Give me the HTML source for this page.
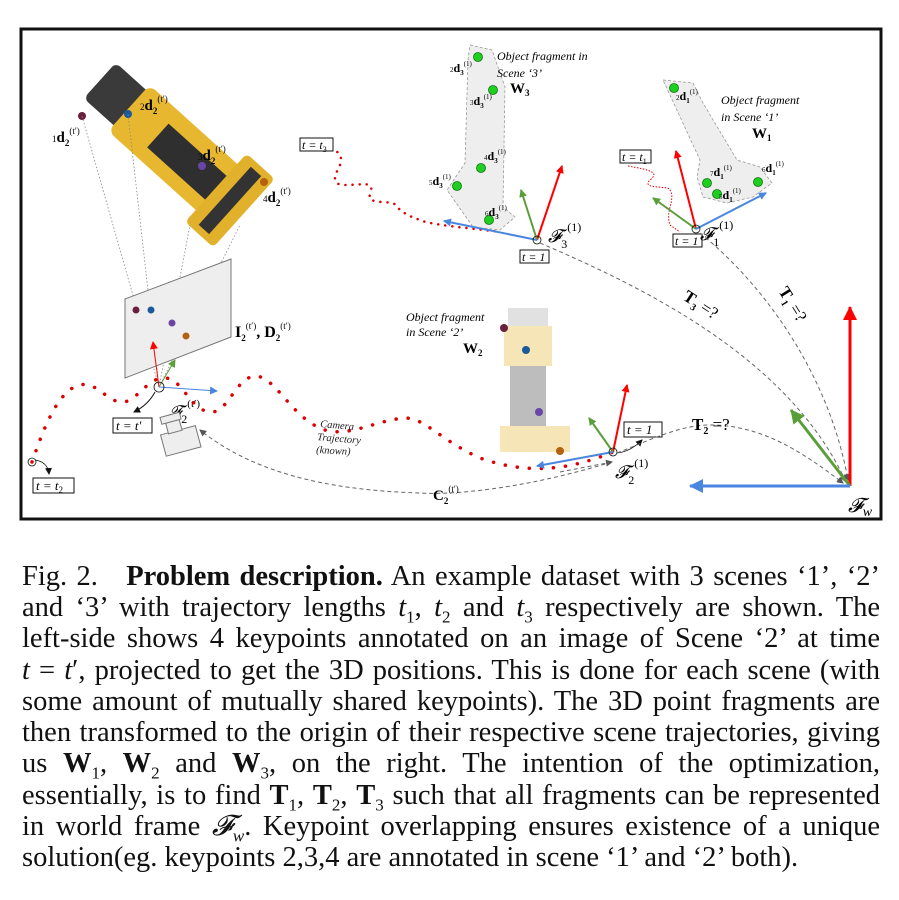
<!DOCTYPE html>
<html><head><meta charset="utf-8">
<style>
html,body{margin:0;padding:0;background:#fff;}
body{width:899px;height:900px;position:relative;overflow:hidden;font-family:"Liberation Serif",serif;}
.cap{position:absolute;left:22px;width:858px;font-size:28.5px;line-height:31px;white-space:nowrap;color:#111;text-align:justify;text-align-last:justify;}
.cap.last{text-align-last:left;}
svg text{font-family:"Liberation Serif",serif;}
.it{font-family:"Liberation Sans",sans-serif;font-style:italic;}
</style></head><body>
<svg width="899" height="540" style="position:absolute;left:0;top:0" xmlns="http://www.w3.org/2000/svg">
<defs>
<marker id="ar" markerWidth="8" markerHeight="8" refX="7" refY="4" orient="auto" markerUnits="userSpaceOnUse"><path d="M0,0 L8,4 L0,8 z" fill="#f00"/></marker>
<marker id="ag" markerWidth="8" markerHeight="8" refX="7" refY="4" orient="auto" markerUnits="userSpaceOnUse"><path d="M0,0 L8,4 L0,8 z" fill="#5a9e3a"/></marker>
<marker id="ab" markerWidth="8" markerHeight="8" refX="7" refY="4" orient="auto" markerUnits="userSpaceOnUse"><path d="M0,0 L8,4 L0,8 z" fill="#4a86e0"/></marker>
<marker id="ar2" markerWidth="14" markerHeight="14" refX="13" refY="7" orient="auto" markerUnits="userSpaceOnUse"><path d="M0,0 L14,7 L0,14 z" fill="#f00"/></marker>
<marker id="ag2" markerWidth="14" markerHeight="14" refX="13" refY="7" orient="auto" markerUnits="userSpaceOnUse"><path d="M0,0 L14,7 L0,14 z" fill="#5a9e3a"/></marker>
<marker id="ab2" markerWidth="14" markerHeight="14" refX="13" refY="7" orient="auto" markerUnits="userSpaceOnUse"><path d="M0,0 L14,7 L0,14 z" fill="#4a86e0"/></marker>
<marker id="ak" markerWidth="7" markerHeight="7" refX="6" refY="3.5" orient="auto" markerUnits="userSpaceOnUse"><path d="M0,0 L7,3.5 L0,7 z" fill="#555"/></marker>
<marker id="akb" markerWidth="7" markerHeight="7" refX="6" refY="3.5" orient="auto" markerUnits="userSpaceOnUse"><path d="M0,0 L7,3.5 L0,7 z" fill="#111"/></marker>
</defs>
<rect x="21" y="29" width="860" height="490" fill="#fff" stroke="#111" stroke-width="3"/>

<g transform="rotate(42 165 150)">
<rect x="70" y="118" width="48" height="48" rx="6" fill="#3a3a3a"/>
<rect x="110" y="112" width="130" height="62" rx="8" fill="#e8b730"/>
<rect x="150" y="128" width="90" height="32" fill="#2f2f2f"/>
<rect x="228" y="98" width="38" height="92" rx="5" fill="#e2b12c"/>
<rect x="240" y="105" width="14" height="78" fill="#333"/>
</g>
<circle cx="82" cy="116" r="4" fill="#6b1f3f"/>
<circle cx="128" cy="114" r="4" fill="#1b5a9a"/>
<circle cx="202" cy="166" r="4" fill="#6a45a8"/>
<circle cx="264" cy="182" r="4" fill="#b5620f"/>
<g font-size="15" font-weight="bold">
<text x="52" y="142"><tspan font-size="9" font-weight="normal">1</tspan>d<tspan font-size="9" dy="4">2</tspan><tspan font-size="9" dy="-12" font-weight="normal">(t′)</tspan></text>
<text x="140" y="110"><tspan font-size="9" font-weight="normal">2</tspan>d<tspan font-size="9" dy="4">2</tspan><tspan font-size="9" dy="-12" font-weight="normal">(t′)</tspan></text>
<text x="198" y="160"><tspan font-size="9" font-weight="normal">3</tspan>d<tspan font-size="9" dy="4">2</tspan><tspan font-size="9" dy="-12" font-weight="normal">(t′)</tspan></text>
<text x="263" y="202"><tspan font-size="9" font-weight="normal">4</tspan>d<tspan font-size="9" dy="4">2</tspan><tspan font-size="9" dy="-12" font-weight="normal">(t′)</tspan></text>
</g>
<g stroke="#888" stroke-width="0.8" stroke-dasharray="1.5,2" fill="none">
<line x1="159" y1="387" x2="82" y2="116"/><line x1="159" y1="387" x2="128" y2="114"/>
<line x1="159" y1="387" x2="190" y2="225"/><line x1="159" y1="387" x2="240" y2="225"/>
</g>
<polygon points="125,299 231,259 231,337 125,378" fill="#eee" stroke="#777" stroke-width="1"/>
<circle cx="136" cy="310" r="3.5" fill="#6b1f3f"/><circle cx="151" cy="310" r="3.5" fill="#1b5a9a"/>
<circle cx="172" cy="323" r="3.5" fill="#6a45a8"/><circle cx="186" cy="336" r="3.5" fill="#b5620f"/>
<text x="235" y="337" font-size="16" font-weight="bold">I<tspan font-size="9" dy="4">2</tspan><tspan font-size="9" dy="-12" font-weight="normal">(t′)</tspan><tspan dy="8">, D</tspan><tspan font-size="9" dy="4">2</tspan><tspan font-size="9" dy="-12" font-weight="normal">(t′)</tspan></text>
<line x1="159" y1="387" x2="153" y2="342" stroke="#f00" stroke-width="1" marker-end="url(#ar)"/>
<line x1="159" y1="387" x2="175" y2="360" stroke="#5a9e3a" stroke-width="1" marker-end="url(#ag)"/>
<line x1="159" y1="387" x2="217" y2="391" stroke="#4a86e0" stroke-width="1" marker-end="url(#ab)"/>
<circle cx="159" cy="387" r="5" fill="none" stroke="#111" stroke-width="0.8"/>
<path d="M155,392 Q148,405 134,412" fill="none" stroke="#111" stroke-width="1" marker-end="url(#akb)"/>
<rect x="113" y="418" width="39" height="15" fill="#fff" stroke="#111" stroke-width="1"/>
<text x="116" y="430" font-size="13" font-style="italic">t = t′</text>
<text x="168" y="418" font-size="18" font-style="italic">𝓕<tspan font-size="12" dy="5" font-style="normal">2</tspan><tspan font-size="11" dy="-16" font-style="normal">(t′)</tspan></text>
<g transform="rotate(-15 180 438)" fill="#eee" stroke="#777" stroke-width="1">
<rect x="162" y="430" width="36" height="22"/><rect x="170" y="420" width="14" height="11"/><rect x="166" y="413" width="20" height="7"/>
</g>
<path d="M32,462 C40,440 55,392 79,385 C100,380 110,410 130,400 C145,390 150,378 165,378 C182,378 190,410 210,412 C228,414 235,378 255,376 C275,376 290,415 320,428 C345,440 375,420 405,418 C425,418 440,440 480,458 C520,472 560,474 613,452" fill="none" stroke="#d00" stroke-width="3.5" stroke-dasharray="0.1,12" stroke-linecap="round"/>
<circle cx="32" cy="462" r="4" fill="none" stroke="#111" stroke-width="0.8"/><circle cx="32" cy="462" r="1.5" fill="#d00"/>
<path d="M35,460 Q48,462 49,474" fill="none" stroke="#111" stroke-width="0.8" marker-end="url(#akb)"/>
<rect x="33" y="478" width="41" height="15" fill="#fff" stroke="#111" stroke-width="1"/>
<text x="36" y="490" font-size="13" font-style="italic">t = t<tspan font-size="9" dy="3" font-style="normal">2</tspan></text>
<g class="it" font-size="10.5" fill="#222">
<text x="320" y="427" transform="rotate(5 320 427)">Camera</text>
<text x="317" y="440" transform="rotate(5 317 440)">Trajectory</text>
<text x="316" y="453" transform="rotate(3 316 453)">(known)</text>
</g>
<path d="M612,462 C520,490 450,495 420,493 C320,490 250,470 200,430" fill="none" stroke="#666" stroke-width="1" stroke-dasharray="4,3" marker-end="url(#ak)"/>
<path d="M560,472 L612,462" fill="none" stroke="#666" stroke-width="1" stroke-dasharray="4,3" marker-end="url(#ak)"/>
<text x="433" y="500" font-size="15" font-weight="bold">C<tspan font-size="9" dy="4">2</tspan><tspan font-size="9" dy="-12" font-weight="normal">(t′)</tspan></text>

<g opacity="0.35">
<rect x="508" y="308" width="40" height="18" fill="#aaa"/>
<rect x="504" y="326" width="48" height="40" fill="#e8b730"/>
<rect x="510" y="366" width="36" height="60" fill="#444"/>
<rect x="500" y="426" width="70" height="26" fill="#e8b730"/>
</g>
<circle cx="504" cy="328" r="4" fill="#6b1f3f"/><circle cx="526" cy="350" r="4" fill="#1b5a9a"/>
<circle cx="539" cy="412" r="4" fill="#6a45a8"/><circle cx="560" cy="451" r="4" fill="#b5620f"/>
<g class="it" font-size="12"><text x="406" y="321">Object fragment</text><text x="406" y="336">in Scene ‘2’</text></g>
<text x="463" y="353" font-size="15" font-weight="bold">W<tspan font-size="9" dy="3">2</tspan></text>
<line x1="613" y1="452" x2="627" y2="385" stroke="#f00" stroke-width="2" marker-end="url(#ar)"/>
<line x1="613" y1="452" x2="589" y2="418" stroke="#5a9e3a" stroke-width="2" marker-end="url(#ag)"/>
<line x1="613" y1="452" x2="537" y2="466" stroke="#4a86e0" stroke-width="2" marker-end="url(#ab)"/>
<circle cx="613" cy="452" r="4" fill="none" stroke="#111" stroke-width="0.8"/>
<path d="M617,453 Q630,452 642,440" fill="none" stroke="#111" stroke-width="0.8" marker-end="url(#akb)"/>
<rect x="624" y="422" width="38" height="15" fill="#fff" stroke="#111" stroke-width="1"/>
<text x="627" y="434" font-size="13" font-style="italic">t = 1</text>
<text x="615" y="478" font-size="18" font-style="italic">𝓕<tspan font-size="12" dy="6" font-style="normal">2</tspan><tspan font-size="12" dy="-17" font-style="normal">(1)</tspan></text>

<path d="M325,145 C330,150 345,150 340,165 C335,175 330,185 345,185 C365,185 375,180 370,195 C365,205 395,200 395,205 C400,210 405,215 420,220 C430,225 470,228 500,232" fill="none" stroke="#d00" stroke-width="2.5" stroke-dasharray="0.1,7" stroke-linecap="round"/>
<rect x="300" y="138" width="33" height="13" fill="#fff" stroke="#111" stroke-width="1"/>
<text x="302" y="149" font-size="12" font-style="italic">t = t<tspan font-size="8" dy="3" font-style="normal">3</tspan></text>
<path d="M470,45 L492,50 L505,87 L503,207 L515,217 L500,230 L473,227 L447,190 L465,163 L468,60 Z" fill="#eee" stroke="#999" stroke-width="0.8" stroke-dasharray="3,2"/>
<g fill="#1ed01e" stroke="#137013" stroke-width="0.8">
<circle cx="478" cy="57" r="4.5"/><circle cx="493" cy="90" r="4.5"/><circle cx="481" cy="168" r="4.5"/><circle cx="457" cy="186" r="4.5"/><circle cx="489" cy="220" r="4.5"/>
</g>
<g font-size="12" font-weight="bold">
<text x="450" y="72"><tspan font-size="7" font-weight="normal">2</tspan>d<tspan font-size="7" dy="3">3</tspan><tspan font-size="7" dy="-9" font-weight="normal">(1)</tspan></text>
<text x="470" y="105"><tspan font-size="7" font-weight="normal">3</tspan>d<tspan font-size="7" dy="3">3</tspan><tspan font-size="7" dy="-9" font-weight="normal">(1)</tspan></text>
<text x="484" y="160"><tspan font-size="7" font-weight="normal">4</tspan>d<tspan font-size="7" dy="3">3</tspan><tspan font-size="7" dy="-9" font-weight="normal">(1)</tspan></text>
<text x="429" y="185"><tspan font-size="7" font-weight="normal">5</tspan>d<tspan font-size="7" dy="3">3</tspan><tspan font-size="7" dy="-9" font-weight="normal">(1)</tspan></text>
<text x="485" y="216"><tspan font-size="7" font-weight="normal">6</tspan>d<tspan font-size="7" dy="3">3</tspan><tspan font-size="7" dy="-9" font-weight="normal">(1)</tspan></text>
</g>
<g class="it" font-size="12"><text x="497" y="60">Object fragment in</text><text x="497" y="77">Scene ‘3’</text></g>
<text x="510" y="93" font-size="15" font-weight="bold">W<tspan font-size="9" dy="3">3</tspan></text>
<line x1="537" y1="240" x2="562" y2="166" stroke="#f00" stroke-width="2" marker-end="url(#ar)"/>
<line x1="537" y1="240" x2="521" y2="190" stroke="#5a9e3a" stroke-width="2" marker-end="url(#ag)"/>
<line x1="537" y1="240" x2="444" y2="221" stroke="#4a86e0" stroke-width="2" marker-end="url(#ab)"/>
<circle cx="537" cy="240" r="4" fill="none" stroke="#111" stroke-width="0.8"/>
<rect x="520" y="250" width="29" height="13" fill="#fff" stroke="#111" stroke-width="1"/>
<text x="522" y="261" font-size="12" font-style="italic">t = 1</text>
<text x="548" y="242" font-size="18" font-style="italic">𝓕<tspan font-size="12" dy="6" font-style="normal">3</tspan><tspan font-size="12" dy="-17" font-style="normal">(1)</tspan></text>

<path d="M628,166 C650,170 660,172 650,180 C640,190 670,185 670,190 C676,200 665,210 670,225 L680,232" fill="none" stroke="#d00" stroke-width="1" stroke-dasharray="1.5,1.5"/>
<rect x="620" y="150" width="31" height="13" fill="#fff" stroke="#111" stroke-width="1"/>
<text x="622" y="161" font-size="12" font-style="italic">t = t<tspan font-size="8" dy="3" font-style="normal">1</tspan></text>
<path d="M663,80 L693,83 L703,103 L737,160 L760,167 L772,183 L753,197 L727,203 L703,197 L697,177 L700,160 Z" fill="#eee" stroke="#999" stroke-width="0.8" stroke-dasharray="3,2"/>
<g fill="#1ed01e" stroke="#137013" stroke-width="0.8">
<circle cx="674" cy="88" r="4.5"/><circle cx="707" cy="183" r="4.5"/><circle cx="717" cy="194" r="4.5"/><circle cx="758" cy="182" r="4.5"/>
</g>
<g font-size="12" font-weight="bold">
<text x="676" y="100"><tspan font-size="7" font-weight="normal">2</tspan>d<tspan font-size="7" dy="3">1</tspan><tspan font-size="7" dy="-9" font-weight="normal">(1)</tspan></text>
<text x="710" y="176"><tspan font-size="7" font-weight="normal">7</tspan>d<tspan font-size="7" dy="3">1</tspan><tspan font-size="7" dy="-9" font-weight="normal">(1)</tspan></text>
<text x="719" y="199"><tspan font-size="7" font-weight="normal">5</tspan>d<tspan font-size="7" dy="3">1</tspan><tspan font-size="7" dy="-9" font-weight="normal">(1)</tspan></text>
<text x="762" y="172"><tspan font-size="7" font-weight="normal">6</tspan>d<tspan font-size="7" dy="3">1</tspan><tspan font-size="7" dy="-9" font-weight="normal">(1)</tspan></text>
</g>
<g class="it" font-size="12"><text x="721" y="104">Object fragment</text><text x="721" y="121">in Scene ‘1’</text></g>
<text x="752" y="138" font-size="15" font-weight="bold">W<tspan font-size="9" dy="3">1</tspan></text>
<line x1="696" y1="229" x2="676" y2="151" stroke="#f00" stroke-width="2" marker-end="url(#ar)"/>
<line x1="696" y1="229" x2="653" y2="198" stroke="#5a9e3a" stroke-width="2" marker-end="url(#ag)"/>
<line x1="696" y1="229" x2="766" y2="193" stroke="#4a86e0" stroke-width="2" marker-end="url(#ab)"/>
<circle cx="696" cy="229" r="4" fill="none" stroke="#111" stroke-width="0.8"/>
<rect x="673" y="234" width="29" height="13" fill="#fff" stroke="#111" stroke-width="1"/>
<text x="675" y="245" font-size="12" font-style="italic">t = 1</text>
<text x="700" y="240" font-size="18" font-style="italic">𝓕<tspan font-size="12" dy="6" font-style="normal">1</tspan><tspan font-size="12" dy="-17" font-style="normal">(1)</tspan></text>

<path d="M540,243 C650,290 790,360 846,482" fill="none" stroke="#666" stroke-width="1" stroke-dasharray="4,3" marker-end="url(#ak)"/>
<path d="M700,233 C770,290 830,380 848,480" fill="none" stroke="#666" stroke-width="1" stroke-dasharray="4,3" marker-end="url(#ak)"/>
<path d="M617,453 C650,440 680,425 710,425 C760,425 800,450 843,483" fill="none" stroke="#666" stroke-width="1" stroke-dasharray="4,3" marker-end="url(#ak)"/>
<text x="682" y="299" font-size="17" font-weight="bold" transform="rotate(33 682 299)">T<tspan font-size="10" dy="4">3</tspan><tspan dy="-4" font-weight="normal"> =?</tspan></text>
<text x="778" y="291" font-size="17" font-weight="bold" transform="rotate(58 778 291)">T<tspan font-size="10" dy="4">1</tspan><tspan dy="-4" font-weight="normal"> =?</tspan></text>
<text x="692" y="430" font-size="17" font-weight="bold">T<tspan font-size="10" dy="4">2</tspan><tspan dy="-4" font-weight="normal"> =?</tspan></text>
<line x1="850" y1="486" x2="850" y2="307" stroke="#f00" stroke-width="3" marker-end="url(#ar2)"/>
<line x1="850" y1="486" x2="791" y2="410" stroke="#5a9e3a" stroke-width="3" marker-end="url(#ag2)"/>
<line x1="850" y1="486" x2="690" y2="486" stroke="#4a86e0" stroke-width="3" marker-end="url(#ab2)"/>
<text x="848" y="512" font-size="20" font-style="italic">𝓕<tspan font-size="14" dy="4">w</tspan></text>
</svg>

<div class="cap" style="top:561px">Fig. 2. &nbsp;&nbsp;<b>Problem description.</b> An example dataset with 3 scenes ‘1’, ‘2’</div>
<div class="cap" style="top:592px">and ‘3’ with trajectory lengths <i>t</i><sub style="font-size:17px">1</sub>, <i>t</i><sub style="font-size:17px">2</sub> and <i>t</i><sub style="font-size:17px">3</sub> respectively are shown. The</div>
<div class="cap" style="top:623px">left-side shows 4 keypoints annotated on an image of Scene ‘2’ at time</div>
<div class="cap" style="top:655px"><i>t</i> = <i>t</i>′, projected to get the 3D positions. This is done for each scene (with</div>
<div class="cap" style="top:686px">some amount of mutually shared keypoints). The 3D point fragments are</div>
<div class="cap" style="top:717px">then transformed to the origin of their respective scene trajectories, giving</div>
<div class="cap" style="top:748px">us <b>W</b><sub style="font-size:17px">1</sub>, <b>W</b><sub style="font-size:17px">2</sub> and <b>W</b><sub style="font-size:17px">3</sub>, on the right. The intention of the optimization,</div>
<div class="cap" style="top:780px">essentially, is to find <b>T</b><sub style="font-size:17px">1</sub>, <b>T</b><sub style="font-size:17px">2</sub>, <b>T</b><sub style="font-size:17px">3</sub> such that all fragments can be represented</div>
<div class="cap" style="top:811px">in world frame <i>𝓕</i><sub style="font-size:17px"><i>w</i></sub>. Keypoint overlapping ensures existence of a unique</div>
<div class="cap last" style="top:842px">solution(eg. keypoints 2,3,4 are annotated in scene ‘1’ and ‘2’ both).</div>
</body></html>
